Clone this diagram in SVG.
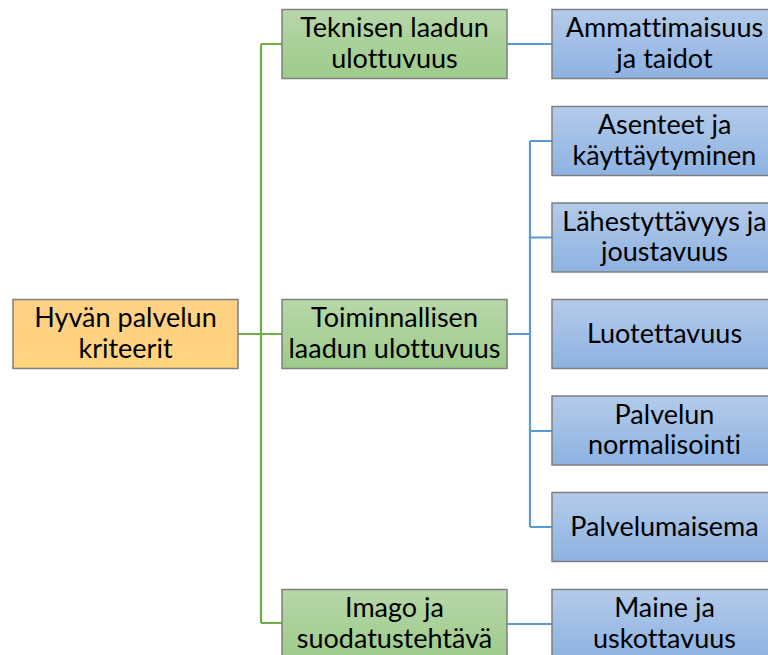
<svg xmlns="http://www.w3.org/2000/svg" width="768" height="655" viewBox="0 0 768 655">
<defs>
<linearGradient id="gOr" x1="0" y1="0" x2="0" y2="1"><stop offset="0" stop-color="#FFD186"/><stop offset="1" stop-color="#FFD47E"/></linearGradient>
<linearGradient id="gGr" x1="0" y1="0" x2="0" y2="1"><stop offset="0" stop-color="#B7D7A8"/><stop offset="1" stop-color="#9DCB8A"/></linearGradient>
<linearGradient id="gBl" x1="0" y1="0" x2="0" y2="1"><stop offset="0" stop-color="#B3CBEA"/><stop offset="1" stop-color="#8EB2E1"/></linearGradient>
</defs>
<style>
rect{stroke:#7F7F7F;stroke-width:1.5}
.or{fill:url(#gOr)}
.gr{fill:url(#gGr)}
.bl{fill:url(#gBl)}
text{font-family:Lato,"Open Sans","Liberation Sans",sans-serif;font-size:27px;fill:#000;text-anchor:middle;font-variant-ligatures:none}
.cg{stroke:#70AD47;stroke-width:2.2;fill:none}
.cb{stroke:#5B9BD5;stroke-width:2.2;fill:none}
</style>
<g id="connectors">
<path class="cg" d="M238,334H282M261,44V623M261,44H282M261,623H282"/>
<path class="cb" d="M507,44H552M507,334H530M530,141V527M530,141H552M530,237.5H552M530,431H552M530,527H552M507,624H552"/>
</g>
<g id="root"><rect class="or" x="13" y="299.5" width="225" height="69"/><text x="125.5" y="327">Hyvän palvelun</text><text x="125.5" y="357.5">kriteerit</text></g>
<g id="tekninen"><rect class="gr" x="282" y="9.5" width="225" height="69"/><text x="394.5" y="37">Teknisen laadun</text><text x="394.5" y="67.5">ulottuvuus</text></g>
<g id="toiminnallinen"><rect class="gr" x="282" y="299.5" width="225" height="69"/><text x="394.5" y="327">Toiminnallisen</text><text x="394.5" y="357.5">laadun ulottuvuus</text></g>
<g id="imago"><rect class="gr" x="282" y="589.5" width="225" height="69"/><text x="394.5" y="617">Imago ja</text><text x="394.5" y="647.5">suodatustehtävä</text></g>
<g id="ammattimaisuus"><rect class="bl" x="552" y="9.5" width="225" height="69"/><text x="664.5" y="37">Ammattimaisuus</text><text x="664.5" y="67.5">ja taidot</text></g>
<g id="asenteet"><rect class="bl" x="552" y="106.5" width="225" height="69"/><text x="664.5" y="134">Asenteet ja</text><text x="664.5" y="164.5">käyttäytyminen</text></g>
<g id="lahestyttavyys"><rect class="bl" x="552" y="203" width="225" height="69"/><text x="664.5" y="230.5">Lähestyttävyys ja</text><text x="664.5" y="261">joustavuus</text></g>
<g id="luotettavuus"><rect class="bl" x="552" y="299.5" width="225" height="69"/><text x="664.5" y="343">Luotettavuus</text></g>
<g id="normalisointi"><rect class="bl" x="552" y="396" width="225" height="69"/><text x="664.5" y="423.5">Palvelun</text><text x="664.5" y="454">normalisointi</text></g>
<g id="palvelumaisema"><rect class="bl" x="552" y="492.5" width="225" height="69"/><text x="664.5" y="536">Palvelumaisema</text></g>
<g id="maine"><rect class="bl" x="552" y="589.5" width="225" height="69"/><text x="664.5" y="617">Maine ja</text><text x="664.5" y="647.5">uskottavuus</text></g>
</svg>
